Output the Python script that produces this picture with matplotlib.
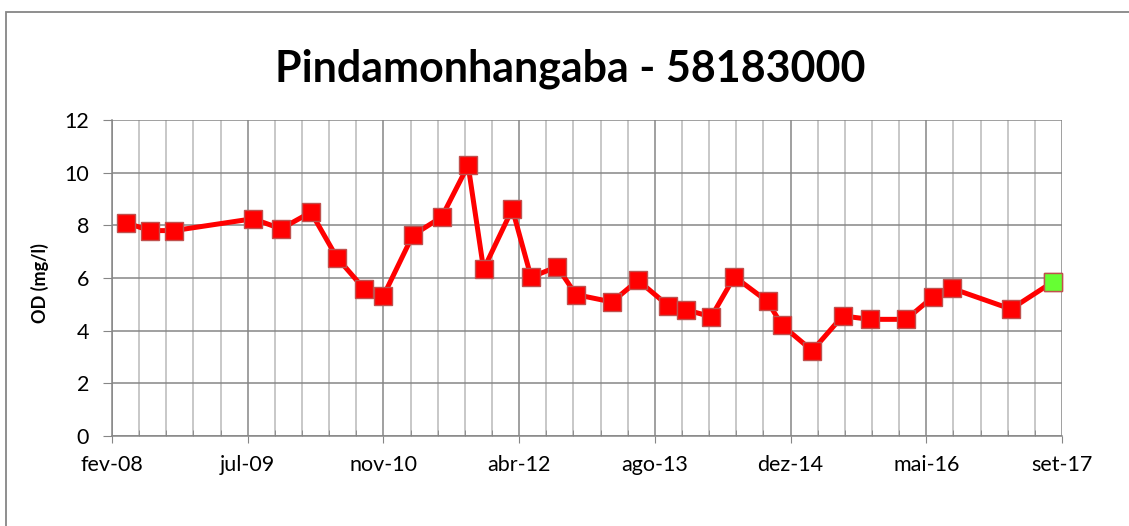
import numpy as np
import matplotlib.pyplot as plt
import matplotlib.dates as mdates
from matplotlib.patches import Rectangle
from matplotlib.ticker import FixedLocator, FuncFormatter

# dados (OD em mg/l)
datas = ['2008-04-16', '2008-07-14', '2008-10-11', '2009-07-28', '2009-11-09',
         '2010-02-27', '2010-06-03', '2010-09-10', '2010-11-20', '2011-03-09',
         '2011-06-24', '2011-09-29', '2011-11-25', '2012-03-10', '2012-05-18',
         '2012-08-22', '2012-10-30', '2013-03-12', '2013-06-16', '2013-10-05',
         '2013-12-10', '2014-03-13', '2014-06-06', '2014-10-06', '2014-11-29',
         '2015-03-20', '2015-07-10', '2015-10-18', '2016-02-29', '2016-06-05',
         '2016-08-14', '2017-03-21', '2017-08-22']
od = [8.1, 7.8, 7.8, 8.25, 7.87, 8.5, 6.77, 5.6, 5.3, 7.62,
      8.32, 10.28, 6.33, 8.62, 6.03, 6.43, 5.37, 5.09, 5.91, 4.95,
      4.79, 4.53, 6.05, 5.11, 4.2, 3.24, 4.56, 4.43, 4.43, 5.27,
      5.61, 4.82, 5.85]

meses = ['jan', 'fev', 'mar', 'abr', 'mai', 'jun',
         'jul', 'ago', 'set', 'out', 'nov', 'dez']
titulo = 'Pindamonhangaba - 58183000'
rotulo_y = 'OD (mg/l)'

plt.rcParams['font.family'] = ['Lato', 'DejaVu Sans']

x = mdates.date2num(np.array(datas, dtype='datetime64[D]'))
inicio = mdates.date2num(np.datetime64('2008-02-25'))
fim = inicio + 3500

fig = plt.figure(figsize=(11.29, 5.26), dpi=100)
ax = fig.add_axes([112/1129, 1-436/526, 950/1129, 316/526])

# borda do grafico
fig.patches.append(Rectangle((6/1129, -0.1), 1.2, 1-12/526+0.1,
                             transform=fig.transFigure, fill=False,
                             edgecolor='#868686', lw=1.3))

ax.plot(x, od, color='red', lw=3.6, marker='s', ms=13.5,
        mfc='red', mec='#C0504D', mew=1, zorder=3, clip_on=False)
ax.plot(x[-1:], od[-1:], ls='none', marker='s', ms=13.5,
        mfc='#66FF33', mec='#C0504D', mew=1, zorder=4, clip_on=False)

ax.set_xlim(inicio, fim)
ax.set_ylim(0, 12)
ax.set_yticks(range(0, 13, 2))
ax.xaxis.set_major_locator(FixedLocator(inicio + np.arange(0, 3501, 500)))
ax.xaxis.set_minor_locator(FixedLocator(inicio + np.arange(0, 3501, 100)))


def fmt(v, pos):
    d = mdates.num2date(v)
    return '%s-%02d' % (meses[d.month - 1], d.year % 100)


ax.xaxis.set_major_formatter(FuncFormatter(fmt))

ax.grid(True, which='major', color='#868686', lw=1.1)
ax.grid(True, which='minor', axis='x', color='#BFBFBF', lw=1.2)
ax.set_axisbelow(True)

for s in ['top', 'right']:
    ax.spines[s].set_visible(False)
for s in ['left', 'bottom']:
    ax.spines[s].set_color('#868686')
    ax.spines[s].set_linewidth(1.1)

ax.tick_params(axis='y', which='major', length=6.5, color='#868686',
               pad=10, labelsize=15.5)
ax.tick_params(axis='x', which='major', length=5, color='#868686',
               pad=9, labelsize=15.5)
ax.tick_params(axis='x', which='minor', direction='in', length=4.5,
               color='#868686')

fig.text(40/1129, 1-283/526, rotulo_y, rotation=90, ha='center',
         va='center', fontsize=13, fontweight='bold')
fig.text(570/1129, 1-69/526, titulo, ha='center', va='center',
         fontsize=31, fontweight='bold')

fig.savefig('out.png', dpi=100)
